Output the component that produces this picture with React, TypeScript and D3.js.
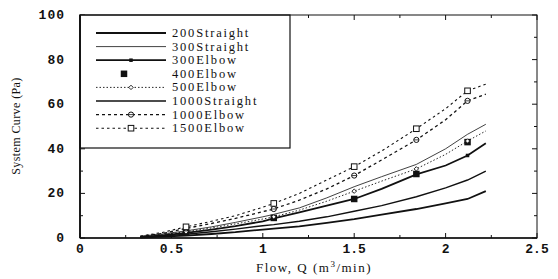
import * as d3 from "d3";

const width = 558;
const height = 279;
const m = { left: 80, right: 21, top: 15, bottom: 41 };

// flow values (m3/min)
const flow = [0.33, 0.45, 0.58, 0.72, 0.85, 1.0, 1.06, 1.2, 1.35, 1.5, 1.65, 1.84, 2.0, 2.12, 2.22];
const markerFlow = [0.58, 1.06, 1.5, 1.84, 2.12];

const s200Straight = [0.2, 0.6, 1.1, 1.8, 2.6, 3.8, 4.2, 5.2, 6.8, 8.5, 10.5, 13, 15.5, 17.5, 21];
const s300Straight = [0.8, 1.8, 3.2, 5, 7, 9.5, 10.6, 13.5, 18, 23, 27.5, 33, 40, 46.5, 51];
const s300Elbow = [0.4, 1.2, 2.3, 3.8, 5.3, 7.5, 8.8, 11.5, 14.5, 17.5, 22, 28.5, 32.5, 37, 42.5];
const s400Elbow = [2.5, 9, 17.5, 28.7, 43];
const s500Elbow = [0.6, 1.5, 2.8, 4.5, 6.3, 8.5, 9.5, 12.5, 16.5, 21, 25.5, 31, 37.5, 43.5, 48];
const s1000Straight = [0.3, 0.9, 1.7, 2.8, 4, 5.5, 6, 7.5, 9.5, 12, 14.5, 18.5, 22.5, 26, 30];
const s1000Elbow = [0.7, 2, 4.3, 6.5, 8.8, 11.8, 13, 17, 22, 28, 35, 44, 53, 61.5, 64.5];
const s1500Elbow = [0.8, 2.5, 5, 7.5, 10, 13.8, 15.5, 20, 26, 32, 39, 49, 58, 66, 69];

const legendNames = ["200Straight", "300Straight", "300Elbow", "400Elbow", "500Elbow", "1000Straight", "1000Elbow", "1500Elbow"];
const xTicks = [0, 0.5, 1, 1.5, 2, 2.5];
const yTicks = [0, 20, 40, 60, 80, 100];

type Style = { w: number; dash?: string; line: boolean; marker?: string; ms?: number };
const styles: Style[] = [
  { w: 1.8, line: true },
  { w: 0.8, line: true },
  { w: 1.8, line: true, marker: "sq", ms: 3.5 },
  { w: 0, line: false, marker: "sq", ms: 6.5 },
  { w: 0.9, dash: "1.5,2", line: true, marker: "dia", ms: 2.2 },
  { w: 1.4, line: true },
  { w: 1.3, dash: "3,3", line: true, marker: "circ", ms: 2.6 },
  { w: 1.1, dash: "2.5,3", line: true, marker: "osq", ms: 2.8 },
];

const lineData = [s200Straight, s300Straight, s300Elbow, null, s500Elbow, s1000Straight, s1000Elbow, s1500Elbow];
const markerData: (number[] | null)[] = [
  null,
  null,
  [2.3, 8.8, 17.5, 28.5, 37],
  s400Elbow,
  [2.8, 9.5, 21, 31, 43.5],
  null,
  [4.3, 13, 28, 44, 61.5],
  [5, 15.5, 32, 49, 66],
];

const font = "'Liberation Serif', 'Times New Roman', serif";
const mono = "'Liberation Mono', 'Courier New', monospace";

function Marker({ kind, x, y, s }: { kind: string; x: number; y: number; s: number }) {
  if (kind === "sq") return <rect x={x - s / 2} y={y - s / 2} width={s} height={s} fill="#111" />;
  if (kind === "dia")
    return <path d={`M${x},${y - s}L${x + s},${y}L${x},${y + s}L${x - s},${y}Z`} fill="#fff" stroke="#111" strokeWidth={0.9} />;
  if (kind === "circ")
    return (
      <g>
        <circle cx={x} cy={y} r={s} fill="#fff" stroke="#111" strokeWidth={1} />
        <line x1={x - s} x2={x + s} y1={y} y2={y} stroke="#111" strokeWidth={0.8} />
      </g>
    );
  return <rect x={x - s} y={y - s} width={2 * s} height={2 * s} fill="#fff" stroke="#111" strokeWidth={1} />;
}

const App = () => {
  const x = d3.scaleLinear().domain([0, 2.5]).range([m.left, width - m.right]);
  const y = d3.scaleLinear().domain([0, 100]).range([height - m.bottom, m.top]);
  const x0 = m.left;
  const x1 = width - m.right;
  const y0 = height - m.bottom;
  const y1 = m.top;

  const line = d3
    .line<number>()
    .x((_, i) => x(flow[i]))
    .y((d) => y(d));

  const xMinor = d3.range(0, 2.51, 0.25);
  const yMinor = d3.range(0, 101, 10);

  const legTop = 33;
  const legStep = 13.6;

  return (
    <svg width={width} height={height} style={{ position: "absolute", left: 0, top: 0, background: "#fff" }}>
      {/* ticks */}
      {xMinor.map((t, i) => {
        const len = i % 2 === 0 ? 5 : 3;
        return (
          <g key={"xt" + i} stroke="#111" strokeWidth={1}>
            <line x1={x(t)} x2={x(t)} y1={y0} y2={y0 - len} />
            <line x1={x(t)} x2={x(t)} y1={y1} y2={y1 + len} />
          </g>
        );
      })}
      {yMinor.map((t, i) => {
        const len = i % 2 === 0 ? 5 : 3;
        return (
          <g key={"yt" + i} stroke="#111" strokeWidth={1}>
            <line x1={x0} x2={x0 + len} y1={y(t)} y2={y(t)} />
            <line x1={x1} x2={x1 - len} y1={y(t)} y2={y(t)} />
          </g>
        );
      })}

      {/* series */}
      {lineData.map((d, i) =>
        d && styles[i].line ? (
          <path key={"l" + i} d={line(d) ?? ""} fill="none" stroke="#111" strokeWidth={styles[i].w} strokeDasharray={styles[i].dash} />
        ) : null
      )}
      {markerData.map((d, i) =>
        d
          ? d.map((v, j) => <Marker key={"m" + i + "-" + j} kind={styles[i].marker!} x={x(markerFlow[j])} y={y(v)} s={styles[i].ms!} />)
          : null
      )}

      {/* legend */}
      <rect x={x0} y={y1} width={210} height={133} fill="#fff" stroke="#111" strokeWidth={1.2} />
      {legendNames.map((n, i) => {
        const ly = legTop + i * legStep;
        const st = styles[i];
        return (
          <g key={"lg" + i}>
            {st.line && <line x1={96} x2={166} y1={ly} y2={ly} stroke="#111" strokeWidth={st.w} strokeDasharray={st.dash} />}
            {st.marker && <Marker kind={st.marker} x={i === 3 ? 124 : 131} y={ly} s={st.ms!} />}
            <text x={172} y={ly + 4} fontFamily={font} fontSize={12.5} fill="#111" letterSpacing={1.8}>
              {n}
            </text>
          </g>
        );
      })}

      {/* frame */}
      <rect x={x0} y={y1} width={x1 - x0} height={y0 - y1} fill="none" stroke="#111" strokeWidth={1} />
      <line x1={x0} x2={x0} y1={y1} y2={y0} stroke="#111" strokeWidth={1.8} />
      <line x1={x0} x2={x1} y1={y0} y2={y0} stroke="#111" strokeWidth={1.5} />

      {/* tick labels */}
      {xTicks.map((t) => (
        <text key={"xl" + t} x={x(t)} y={253} textAnchor="middle" fontFamily={mono} fontSize={13} fontWeight="bold" fill="#111">
          {t}
        </text>
      ))}
      {yTicks.map((t) => (
        <text key={"yl" + t} x={65} y={y(t) + 4} textAnchor="end" fontFamily={mono} fontSize={13} fontWeight="bold" fill="#111" letterSpacing={1}>
          {t}
        </text>
      ))}

      <text x={314} y={272} textAnchor="middle" fontFamily={font} fontSize={13} fill="#111" letterSpacing={1.5}>
        Flow, Q (m<tspan dy={-5} fontSize={9}>3</tspan>
        <tspan dy={5}>/min)</tspan>
      </text>
      <text transform="translate(20,126) rotate(-90)" textAnchor="middle" fontFamily={font} fontSize={12} fill="#111" letterSpacing={0.4}>
        System Curve (Pa)
      </text>
    </svg>
  );
};

export default App;
